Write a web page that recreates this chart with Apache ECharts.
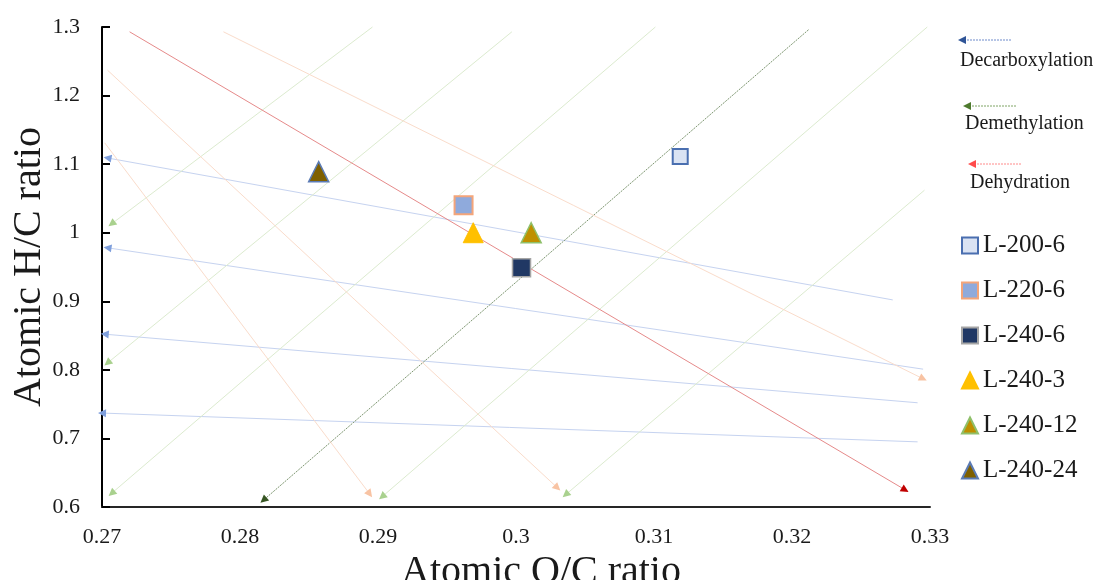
<!DOCTYPE html>
<html>

<head>
    <meta http-equiv="Content-Type" content="text/html; charset=utf-8" />
    <title>Van Krevelen</title>
    <script src="https://cdn.jsdelivr.net/npm/echarts@6/dist/echarts.min.js"></script>
    <style>
        html, body { margin: 0; padding: 0; background: #fff; }
    </style>
</head>

<body>
    <div id="main" style="width: 1096px;height:580px;"></div>
</body>
<script type="text/javascript">
    // samples
    var sampleNames = ['L-200-6', 'L-220-6', 'L-240-6', 'L-240-3', 'L-240-12', 'L-240-24'];
    var ocRatio = [0.3119, 0.2962, 0.3004, 0.2969, 0.3011, 0.2857];
    var hcRatio = [1.111, 1.040, 0.949, 1.000, 1.000, 1.089];

    // guide lines: [start O/C, start H/C, arrow O/C, arrow H/C]
    var decarbLines = [
        [0.3273, 0.902, 0.2704, 1.109],
        [0.3295, 0.801, 0.2704, 0.978],
        [0.3291, 0.752, 0.2702, 0.852],
        [0.3291, 0.695, 0.2700, 0.737]
    ];
    var demethylLines = [
        [0.2896, 1.300, 0.2707, 1.013],
        [0.2997, 1.293, 0.2704, 0.810],
        [0.3101, 1.300, 0.2707, 0.620],
        [0.3298, 1.300, 0.2903, 0.615],
        [0.3296, 1.062, 0.3036, 0.618]
    ];
    var demethylMain = [0.3212, 1.296, 0.2817, 0.610];
    var dehydLines = [
        [0.2788, 1.293, 0.3295, 0.787],
        [0.2704, 1.237, 0.3030, 0.628],
        [0.2702, 1.131, 0.2894, 0.619]
    ];
    var dehydMain = [0.2720, 1.293, 0.3282, 0.625];

    var xTicks = { min: 0.27, max: 0.33, step: 0.01 };
    var yTicks = { min: 0.6, max: 1.3, step: 0.1 };

    var serif = "'Liberation Serif', 'Times New Roman', serif";

    var markerStyles = [
        { symbol: 'rect', size: 15, fill: '#dae3f3', border: '#4a6fb0', bw: 2 },
        { symbol: 'rect', size: 18, fill: '#8faadc', border: '#f4a57a', bw: 2 },
        { symbol: 'rect', size: 18, fill: '#203864', border: '#a5a5a5', bw: 1.5 },
        { symbol: 'triangle', size: 20, fill: '#ffc000', border: '#ffc000', bw: 1 },
        { symbol: 'triangle', size: 20, fill: '#bf9000', border: '#8fc06a', bw: 1.5 },
        { symbol: 'triangle', size: 20, fill: '#7f6000', border: '#5b7bb5', bw: 1.5 }
    ];

    function toLineData(rows, lineColor, arrowColor, dash) {
        return rows.map(function (r) {
            return {
                coords: [[r[0], r[1]], [r[2], r[3]]],
                lineColor: lineColor,
                arrowColor: arrowColor,
                dash: dash || 'solid'
            };
        });
    }

    var guides = []
        .concat(toLineData(decarbLines, '#c6d3f0', '#7f9fdc'))
        .concat(toLineData(demethylLines, '#dcebcf', '#a9d18e'))
        .concat(toLineData([demethylMain], '#7d9670', '#375623', [2, 1]))
        .concat(toLineData(dehydLines, '#fadccb', '#f8c3a3'))
        .concat(toLineData([dehydMain], '#e68a8a', '#c00000'));

    var series = [
        {
            name: 'guideLines',
            type: 'lines',
            coordinateSystem: 'cartesian2d',
            clip: false,
            silent: true,
            z: 1,
            symbol: 'none',
            data: guides.map(function (g) {
                return { coords: g.coords, lineStyle: { color: g.lineColor, width: 1, type: g.dash, opacity: 1 } };
            })
        },
        {
            name: 'guideArrows',
            type: 'lines',
            coordinateSystem: 'cartesian2d',
            clip: false,
            silent: true,
            z: 2,
            symbol: ['none', 'triangle'],
            symbolSize: 8,
            data: guides.map(function (g) {
                return { coords: g.coords, lineStyle: { color: g.arrowColor, width: 0, opacity: 1 } };
            })
        }
    ];

    sampleNames.forEach(function (name, i) {
        var m = markerStyles[i];
        series.push({
            name: name,
            type: 'scatter',
            z: 5,
            symbol: m.symbol,
            symbolSize: m.size,
            itemStyle: { color: m.fill, borderColor: m.border, borderWidth: m.bw, opacity: 1 },
            data: [[ocRatio[i], hcRatio[i]]]
        });
    });

    // small legend arrows for reaction pathways (top right)
    var pathLegend = [
        { text: 'Decarboxylation', y: 40, x0: 958, x1: 1012, line: '#6f8bcb', head: '#2f5597', tx: 960, ty: 61 },
        { text: 'Demethylation', y: 106, x0: 963, x1: 1016, line: '#7fa464', head: '#4e7a2e', tx: 965, ty: 124 },
        { text: 'Dehydration', y: 164, x0: 968, x1: 1021, line: '#ff8a8a', head: '#ff4b4b', tx: 970, ty: 183 }
    ];
    var graphics = [];
    pathLegend.forEach(function (p) {
        graphics.push({
            type: 'line',
            shape: { x1: p.x0 + 6, y1: p.y, x2: p.x1, y2: p.y },
            style: { stroke: p.line, lineWidth: 1, lineDash: [2, 1] }
        });
        graphics.push({
            type: 'polygon',
            shape: { points: [[p.x0, p.y], [p.x0 + 8, p.y - 4], [p.x0 + 8, p.y + 4]] },
            style: { fill: p.head }
        });
        graphics.push({
            type: 'text',
            style: { text: p.text, x: p.tx, y: p.ty, fontSize: 20, fontFamily: serif, fill: '#1a1a1a', verticalAlign: 'middle' }
        });
    });

    var myChart = echarts.init(document.getElementById('main'));
    var option = {
        animation: false,
        backgroundColor: '#fff',
        grid: { left: 102, right: 166, top: 27, bottom: 73, outerBoundsMode: 'none', containLabel: false },
        legend: {
            orient: 'vertical',
            left: 956,
            top: 228,
            itemWidth: 16,
            itemHeight: 16,
            itemGap: 20,
            data: sampleNames,
            textStyle: { fontFamily: serif, fontSize: 25, color: '#1a1a1a' }
        },
        xAxis: {
            type: 'value',
            min: xTicks.min,
            max: xTicks.max,
            interval: xTicks.step,
            name: 'Atomic O/C ratio',
            nameLocation: 'middle',
            nameGap: 45,
            nameMoveOverlap: false,
            nameTextStyle: { fontFamily: serif, fontSize: 40, color: '#1a1a1a', padding: [0, 0, 0, 50] },
            axisLine: { lineStyle: { color: '#262626', width: 2 } },
            axisTick: { show: false },
            splitLine: { show: false },
            axisLabel: { fontFamily: serif, fontSize: 22, color: '#1a1a1a', margin: 19 }
        },
        yAxis: {
            type: 'value',
            min: yTicks.min,
            max: yTicks.max,
            interval: yTicks.step,
            name: 'Atomic H/C ratio',
            nameLocation: 'middle',
            nameGap: 53,
            nameMoveOverlap: false,
            nameTextStyle: { fontFamily: serif, fontSize: 40, color: '#1a1a1a' },
            axisLine: { show: true, lineStyle: { color: '#000', width: 2 } },
            axisTick: { show: true, inside: true, length: 8, lineStyle: { color: '#000', width: 2 } },
            splitLine: { show: false },
            axisLabel: { fontFamily: serif, fontSize: 22, color: '#1a1a1a', margin: 22 }
        },
        graphic: graphics,
        series: series
    };

    myChart.setOption(option);
</script>

</html>
